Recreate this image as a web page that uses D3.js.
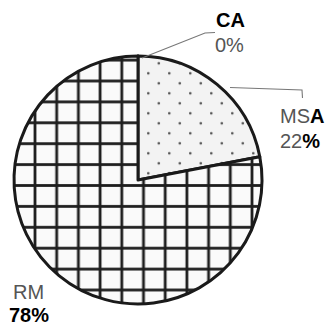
<!DOCTYPE html>
<html>
<head>
<meta charset="utf-8">
<script src="https://cdn.jsdelivr.net/npm/d3@7"></script>
<style>
  html, body { margin: 0; padding: 0; background: #fff; }
  svg { display: block; font-family: "Liberation Sans", Arial, sans-serif; }
</style>
</head>
<body>
<svg id="chart" width="326" height="324"></svg>
<script>
// ---- data ----
const categories = ["CA", "MSA", "RM"];
const values = [0, 22, 78];
const valueLabels = ["0%", "22%", "78%"];
const fills = ["url(#dots)", "url(#dots)", "url(#grid)"];

// ---- layout ----
const W = 326, H = 324;
const cx = 138, cy = 180, R = 124;

const svg = d3.select("#chart");
const defs = svg.append("defs");

// grid hatch (RM)
const gw = 21.7, gh = 20.9;
const grid = defs.append("pattern")
  .attr("id", "grid").attr("patternUnits", "userSpaceOnUse")
  .attr("width", gw).attr("height", gh)
  .attr("x", (35 - cx) - gw / 2).attr("y", (81 - cy) - gh / 2);
grid.append("rect").attr("width", gw).attr("height", gh).attr("fill", "#fafafa");
grid.append("line").attr("x1", gw / 2).attr("x2", gw / 2).attr("y1", 0).attr("y2", gh)
  .attr("stroke", "#1e1e1e").attr("stroke-width", 2.8);
grid.append("line").attr("x1", 0).attr("x2", gw).attr("y1", gh / 2).attr("y2", gh / 2)
  .attr("stroke", "#1e1e1e").attr("stroke-width", 2.8);

// dotted (MSA)
const dw = 21, dh = 20;
const dots = defs.append("pattern")
  .attr("id", "dots").attr("patternUnits", "userSpaceOnUse")
  .attr("width", dw).attr("height", dh)
  .attr("x", 10.3 - dw / 4).attr("y", -66.7 - dh / 4);
dots.append("rect").attr("width", dw).attr("height", dh).attr("fill", "#f3f3f3");
dots.append("circle").attr("cx", dw / 4).attr("cy", dh / 4).attr("r", 1.3).attr("fill", "#555");
dots.append("circle").attr("cx", 3 * dw / 4).attr("cy", 3 * dh / 4).attr("r", 1.3).attr("fill", "#555");

const pie = d3.pie().sort(null).value(d => d)(values);
const arc = d3.arc().innerRadius(0).outerRadius(R);

const g = svg.append("g").attr("transform", `translate(${cx},${cy})`);
g.selectAll("path.slice")
  .data(pie)
  .join("path")
  .attr("class", "slice")
  .attr("d", arc)
  .attr("fill", (d, i) => fills[i])
  .attr("stroke", "#1a1a1a")
  .attr("stroke-width", 3)
  .attr("stroke-linejoin", "round");

// leader lines
const leaders = [
  [[142, 58], [205, 33], [215, 32.5]],
  [[230, 87.5], [302, 90], [302.5, 98]]
];
svg.selectAll("polyline.leader")
  .data(leaders)
  .join("polyline")
  .attr("class", "leader")
  .attr("points", d => d.map(p => p.join(",")).join(" "))
  .attr("fill", "none")
  .attr("stroke", "#777")
  .attr("stroke-width", 1.1);

// labels
const fs = 20;
function txt(x, y, parts) {
  const t = svg.append("text").attr("x", x).attr("y", y).attr("font-size", fs);
  parts.forEach(p => t.append("tspan").text(p[0])
    .attr("font-weight", p[1] ? "bold" : "normal")
    .attr("fill", p[1] ? "#000" : "#555"));
}
txt(216, 26.5, [[categories[0], true]]);
txt(215, 52, [[valueLabels[0], false]]);
txt(280, 123, [[categories[1].slice(0, 2), false], [categories[1].slice(2), true]]);
txt(280, 148, [[valueLabels[1].slice(0, 2), false], [valueLabels[1].slice(2), true]]);
txt(13, 299, [[categories[2], false]]);
txt(9, 321.5, [[valueLabels[2], true]]);
</script>
</body>
</html>
